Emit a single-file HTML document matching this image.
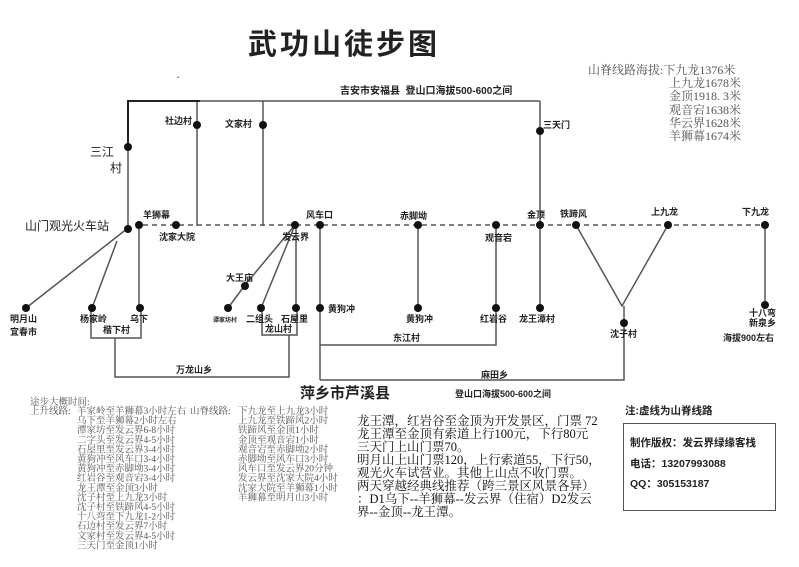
<!DOCTYPE html>
<html><head><meta charset="utf-8"><style>
html,body{margin:0;padding:0;background:#fff;}
svg{display:block;}
.b{font-family:"Liberation Sans","Noto Sans CJK SC",sans-serif;font-weight:bold;fill:#222;}
.s{font-family:"Liberation Serif","Noto Serif CJK SC",serif;fill:#555;}
.m{font-family:"Liberation Serif","Noto Serif CJK SC",serif;fill:#111;}
.n{font-family:"Liberation Sans","Noto Sans CJK SC",sans-serif;fill:#222;}
</style></head><body>
<svg width="799" height="567" viewBox="0 0 799 567" xmlns="http://www.w3.org/2000/svg">
<rect width="799" height="567" fill="#fff"/>
<text x="248" y="54" class="b" font-size="29" letter-spacing="3" fill="#1a1a1a">武功山徒步图</text>
<g class="s" font-size="12">
<text x="588" y="74">山脊线路海拔:下九龙1376米</text>
<text x="669" y="87">上九龙1678米</text>
<text x="669" y="100">金顶1918. 3米</text>
<text x="669" y="114">观音宕1638米</text>
<text x="669" y="127">华云界1628米</text>
<text x="669" y="140">羊狮幕1674米</text>
</g>
<text x="177" y="80" class="b" font-size="8">·</text>
<text x="340" y="94" class="b" font-size="10">吉安市安福县 &#160;登山口海拔500-600之间</text>
<g stroke="#555" stroke-width="1.5" fill="none">
<line x1="128" y1="101" x2="540" y2="101"/>
<line x1="197" y1="101" x2="197" y2="226"/>
<line x1="263" y1="101" x2="263" y2="226"/>
<line x1="540" y1="101" x2="540" y2="308"/>
<line x1="128" y1="101" x2="128" y2="228"/>
<line x1="128" y1="228" x2="26" y2="308"/>
<line x1="117" y1="241" x2="92" y2="308"/>
<line x1="139" y1="225" x2="139" y2="308"/>
<polyline points="91,308 91,338 141,338 141,308"/>
<polyline points="115,338 115,377 289,377 289,335"/>
<line x1="295" y1="225" x2="245" y2="285"/>
<line x1="245" y1="285" x2="228" y2="308"/>
<line x1="295" y1="225" x2="261" y2="308"/>
<line x1="296" y1="225" x2="296" y2="308"/>
<polyline points="262,308 262,335 297,335 297,308"/>
<line x1="320" y1="225" x2="320" y2="380"/>
<polyline points="320,345 496,345 496,225"/>
<polyline points="320,380 624,380 624,306"/>
<line x1="418" y1="225" x2="418" y2="308"/>
<polyline points="576,225 622,306 668,225"/>
<line x1="765" y1="225" x2="765" y2="305"/>
</g>
<polyline points="128,147 128,101 200,101" stroke="#222" stroke-width="2" fill="none"/>
<line x1="143" y1="225" x2="770" y2="225" stroke="#555" stroke-width="1.5" stroke-dasharray="5,4"/>
<g fill="#111">
<circle cx="128" cy="147" r="4"/><circle cx="197" cy="125" r="4"/><circle cx="263" cy="125" r="4"/>
<circle cx="128" cy="229" r="4"/><circle cx="139" cy="225" r="4"/><circle cx="176" cy="225" r="4"/>
<circle cx="295" cy="225" r="4"/><circle cx="320" cy="225" r="4"/><circle cx="418" cy="225" r="4"/>
<circle cx="496" cy="225" r="4"/><circle cx="540" cy="225" r="4"/><circle cx="576" cy="225" r="4"/>
<circle cx="668" cy="225" r="4"/><circle cx="765" cy="225" r="4"/>
<circle cx="26" cy="308" r="4"/><circle cx="92" cy="308" r="4"/><circle cx="140" cy="308" r="4"/>
<circle cx="245" cy="286" r="4"/><circle cx="228" cy="308" r="4"/><circle cx="261" cy="308" r="4"/>
<circle cx="296" cy="308" r="4"/><circle cx="320" cy="308" r="4"/><circle cx="418" cy="308" r="4"/>
<circle cx="496" cy="308" r="4"/><circle cx="540" cy="308" r="4"/><circle cx="624" cy="323" r="4"/>
<circle cx="765" cy="305" r="4"/><circle cx="540" cy="131" r="4"/>
</g>
<g class="n" font-size="12">
<text x="90" y="156">三江</text><text x="110" y="172">村</text>
<text x="25" y="230">山门观光火车站</text>
</g>
<g class="b" font-size="9">
<text x="165" y="124">社边村</text><text x="225" y="127">文家村</text>
<text x="143" y="218">羊狮幕</text><text x="159" y="240">沈家大院</text>
<text x="306" y="218">风车口</text><text x="282" y="240">发云界</text>
<text x="400" y="219">赤脚坳</text><text x="485" y="241">观音宕</text>
<text x="527" y="218">金顶</text><text x="560" y="217">铁蹄风</text>
<text x="651" y="215">上九龙</text><text x="742" y="215">下九龙</text>
<text x="543" y="128">三天门</text>
<text x="10" y="322">明月山</text><text x="10" y="335">宜春市</text>
<text x="80" y="322">杨家岭</text><text x="130" y="322">乌下</text>
<text x="103" y="333">楷下村</text>
<text x="226" y="281">大王庙</text>
<text x="213" y="322" font-size="6">谭家坊村</text>
<text x="246" y="322">二组头</text><text x="281" y="322">石屋里</text>
<text x="265" y="332">龙山村</text>
<text x="328" y="312">黄狗冲</text>
<text x="406" y="322">黄狗冲</text><text x="480" y="322">红岩谷</text>
<text x="519" y="322">龙王潭村</text><text x="610" y="337">沈子村</text>
<text x="749" y="316">十八弯</text><text x="749" y="326">新泉乡</text>
<text x="723" y="341">海拔900左右</text>
<text x="393" y="341">东江村</text><text x="481" y="378">麻田乡</text>
<text x="176" y="373">万龙山乡</text>
<text x="455" y="397">登山口海拔500-600之间</text>
</g>
<text x="300" y="398" class="b" font-size="15">萍乡市芦溪县</text>
<g class="s" font-size="9.5">
<text x="30" y="405">途步大概时间:</text>
<text x="30" y="414">上升线路:</text>
<text x="77" y="414">羊家岭至羊狮幕3小时左右</text>
<text x="77" y="423.6">乌下至羊狮幕2小时左右</text>
<text x="77" y="433.2">潭家坊至发云界6-8小时</text>
<text x="77" y="442.8">二字头至发云界4-5小时</text>
<text x="77" y="452.4">石屋里至发云界3-4小时</text>
<text x="77" y="462">黄狗冲至风车口3-4小时</text>
<text x="77" y="471.6">黄狗冲至赤脚坳3-4小时</text>
<text x="77" y="481.2">红岩谷至观音宕3-4小时</text>
<text x="77" y="490.8">龙王潭至金顶3小时</text>
<text x="77" y="500.4">沈子村至上九龙3小时</text>
<text x="77" y="510">沈子村至铁蹄风4-5小时</text>
<text x="77" y="519.6">十八弯至下九龙1-2小时</text>
<text x="77" y="529.2">石边村至发云界7小时</text>
<text x="77" y="538.8">文家村至发云界4-5小时</text>
<text x="77" y="548.4">三天门至金顶1小时</text>
<text x="190" y="414">山脊线路:</text>
<text x="238" y="414">下九龙至上九龙3小时</text>
<text x="238" y="423.6">上九龙至铁蹄风2小时</text>
<text x="238" y="433.2">铁蹄风至金顶1小时</text>
<text x="238" y="442.8">金顶至观音宕1小时</text>
<text x="238" y="452.4">观音宕至赤脚坳2小时</text>
<text x="238" y="462">赤脚坳至风车口3小时</text>
<text x="238" y="471.6">风车口至发云界20分钟</text>
<text x="238" y="481.2">发云界至沈家大院4小时</text>
<text x="238" y="490.8">沈家大院至羊狮幕1小时</text>
<text x="238" y="500.4">羊狮幕至明月山3小时</text>
</g>
<g class="m" font-size="12.5">
<text x="357" y="425">龙王潭，红岩谷至金顶为开发景区，门票 72</text>
<text x="357" y="438">龙王潭至金顶有索道上行100元，下行80元</text>
<text x="357" y="451">三天门上山门票70。</text>
<text x="357" y="464">明月山上山门票120，上行索道55，下行50，</text>
<text x="357" y="477">观光火车试营业。其他上山点不收门票。</text>
<text x="357" y="490">两天穿越经典线推荐（跨三景区风景各异）</text>
<text x="357" y="503">：D1乌下--羊狮幕--发云界（住宿）D2发云</text>
<text x="357" y="516">界--金顶--龙王潭。</text>
</g>
<text x="625" y="414" class="b" font-size="10.5">注:虚线为山脊线路</text>
<rect x="623.5" y="423.5" width="152" height="87" fill="none" stroke="#555" stroke-width="1"/>
<g class="b" font-size="10.5">
<text x="630" y="446">制作版权：发云界绿缘客栈</text>
<text x="630" y="467">电话：13207993088</text>
<text x="630" y="487">QQ：305153187</text>
</g>
</svg>
</body></html>
